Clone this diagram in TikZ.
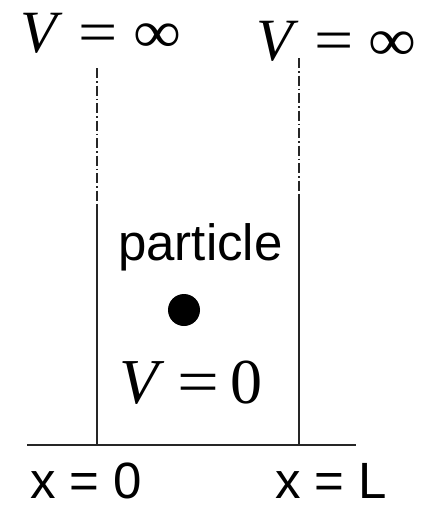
\documentclass[tikz,border=0pt]{standalone}
\usepackage{fontspec}
\usepackage{graphicx}
\setmainfont{Liberation Serif}
\newfontfamily\labelsans{Liberation Sans}
\newcommand{\infsym}{\scalebox{1.12}[1.0]{∞}}
\newcommand{\eqsym}{\scalebox{1.16}[1.0]{=}}
\begin{document}
\begin{tikzpicture}[x=1pt,y=-1pt,
  wall/.style={line width=2.1pt,black!85},
  wallext/.style={line width=2.1pt,black!85,dash pattern=on 10pt off 3pt on 1.5pt off 3pt},
  potlabel/.style={font=\fontsize{60}{62}\selectfont,inner sep=0pt,anchor=base west,text depth=0pt},
  zerolabel/.style={font=\fontsize{64}{66}\selectfont,inner sep=0pt,anchor=base west,text depth=0pt},
  sanslabel/.style={font=\labelsans\fontsize{51}{53}\selectfont,inner sep=0pt,anchor=base west,text depth=0pt}]
\useasboundingbox (0,0) rectangle (421,507);
% walls
\coordinate (lt) at (97,68);
\coordinate (lm) at (97,205);
\coordinate (lb) at (97,445);
\coordinate (rt) at (299,58);
\coordinate (rm) at (299,195);
\coordinate (rb) at (299,445);
\coordinate (g0) at (27,445);
\coordinate (g1) at (356,445);
\draw[wallext] (lt) -- (lm);
\draw[wall] (lm) -- (lb);
\draw[wallext] (rt) -- (rm);
\draw[wall] (rm) -- (rb);
\draw[wall] (g0) -- (g1);
% labels
\node[potlabel] (vl) at (20,52) {\itshape V\hspace{0.36em}\upshape\eqsym\hspace{0.26em}\infsym};
\node[potlabel] (vr) at (256,60) {\itshape V\hspace{0.36em}\upshape\eqsym\hspace{0.24em}\infsym};
\node[sanslabel] (pt) at (118,260) {particle};
\fill (184,310) circle (16);
\node[zerolabel] (v0) at (119,403) {\itshape V\hspace{0.3em}\upshape\eqsym\hspace{0.18em}0};
\node[sanslabel] (x0) at (30,498) {x = 0};
\node[sanslabel] (xl) at (275,498) {x = L};
\end{tikzpicture}
\end{document}
